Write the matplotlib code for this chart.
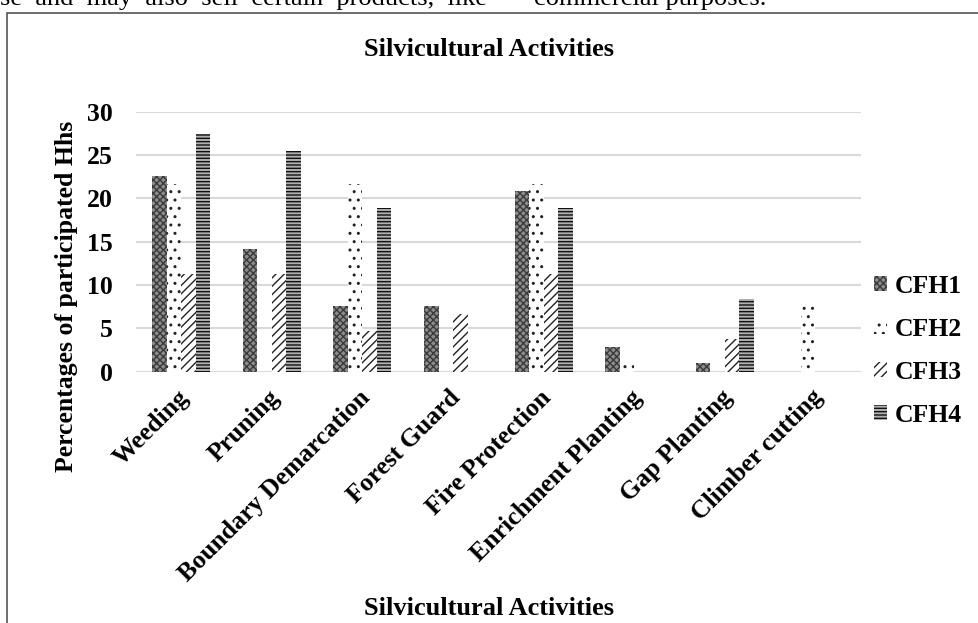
import matplotlib
matplotlib.use("Agg")
import matplotlib.pyplot as plt
import matplotlib.transforms as mtransforms
import numpy as np
from matplotlib.patches import Rectangle

categories = ["Weeding", "Pruning", "Boundary Demarcation", "Forest Guard",
              "Fire Protection", "Enrichment Planting", "Gap Planting", "Climber cutting"]
series_names = ["CFH1", "CFH2", "CFH3", "CFH4"]
cfh1 = [22.6, 14.1, 7.6, 7.6, 20.8, 2.85, 1.0, 0]
cfh2 = [21.6, 0, 21.6, 0, 21.6, 0.95, 0, 7.6]
cfh3 = [11.3, 11.3, 4.7, 6.6, 11.3, 0, 3.8, 0]
cfh4 = [27.4, 25.5, 18.9, 0, 18.9, 0, 8.4, 0]
yticks = [0, 5, 10, 15, 20, 25, 30]

plt.rcParams['font.family'] = ['Liberation Serif', 'DejaVu Serif']
plt.rcParams['hatch.linewidth'] = 1.0

FS = 18.5

fig = plt.figure(figsize=(9.79, 6.23), dpi=100)
ax = fig.add_axes([0.139, 0.4034, 0.740, 0.4173])

x = np.arange(len(categories))
w = 0.16
styles = [dict(facecolor='#8c8c8c', hatch='xxxxx', edgecolor='#3a3a3a'),
          dict(facecolor='white', hatch='..', edgecolor='#222222'),
          dict(facecolor='white', hatch='////', edgecolor='#222222'),
          dict(facecolor='#b0b0b0', hatch='-----', edgecolor='#111111')]
for i, (vals, name) in enumerate(zip([cfh1, cfh2, cfh3, cfh4], series_names)):
    ax.bar(x + (i - 1.5) * w, vals, width=w, label=name, linewidth=0, zorder=3, **styles[i])

ax.set_xlim(-0.5, len(categories) - 0.5)
ax.set_ylim(0, 30)
ax.set_yticks(yticks)
ax.set_yticklabels([str(v) for v in yticks], fontsize=FS, fontweight='bold')
ax.yaxis.grid(True, color='#d9d9d9', linewidth=1.5, zorder=0)
ax.set_axisbelow(True)
for s in ax.spines.values():
    s.set_visible(False)
ax.tick_params(axis='y', length=0, pad=17)
ax.tick_params(axis='x', length=0, pad=0)
ax.set_xticks(x)
ax.set_xticklabels(categories, rotation=45, ha='right', va='top', rotation_mode='anchor',
                   fontsize=FS, fontweight='bold')
off = mtransforms.ScaledTranslation(-4/100, -14/100, fig.dpi_scale_trans)
for lbl in ax.get_xticklabels():
    lbl.set_transform(lbl.get_transform() + off)

fig.text(0.068, 0.525, "Percentages of participated Hhs", rotation=90, ha='center', va='center',
         fontsize=FS, fontweight='bold')

fig.text(0.5, 0.920, "Silvicultural Activities", ha='center', va='center', fontsize=19, fontweight='bold')
fig.text(0.5, 0.024, "Silvicultural Activities", ha='center', va='center', fontsize=19, fontweight='bold')
fig.text(0.0, 1.002, "se  and  may  also  sell  certain  products,  like",
         ha='left', va='center', fontsize=19)
fig.text(0.545, 1.002, "commercial purposes.", ha='left', va='center', fontsize=19)

leg = fig.legend(loc='center left', bbox_to_anchor=(0.893, 0.437), frameon=False,
                 prop={'size': FS, 'weight': 'bold'}, handlelength=0.5, handleheight=0.5,
                 handletextpad=0.3, labelspacing=0.78, borderpad=0, borderaxespad=0)

fig.patches.append(Rectangle((0.007, -0.05), 1.2, 1.029, transform=fig.transFigure,
                             fill=False, edgecolor='#555555', linewidth=1.2))

fig.savefig("out.png", dpi=100)
